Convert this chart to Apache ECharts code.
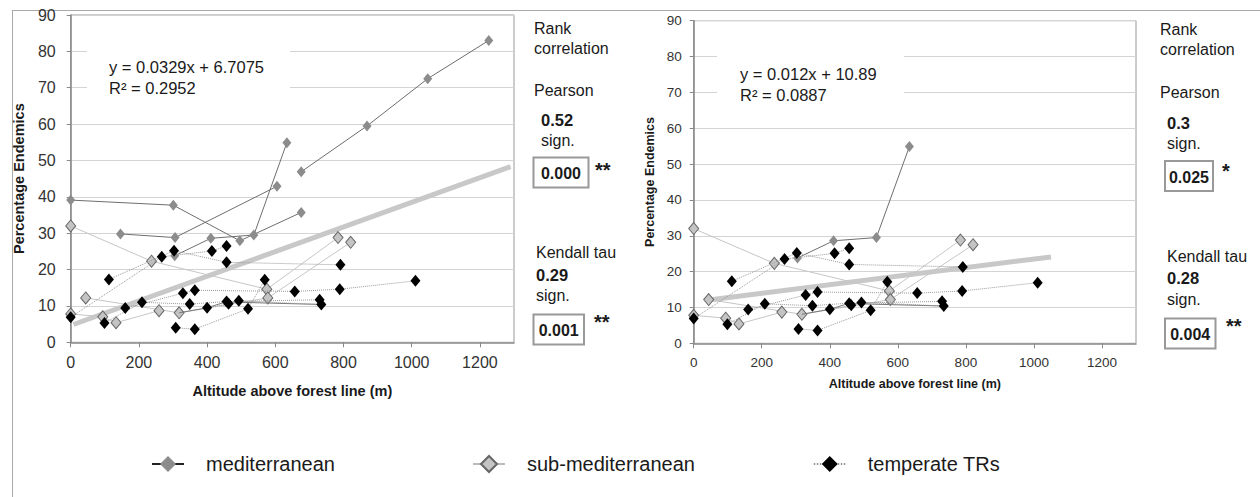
<!DOCTYPE html>
<html><head><meta charset="utf-8">
<script src="https://cdn.jsdelivr.net/npm/echarts@6/dist/echarts.min.js"></script>
<style>html,body{margin:0;padding:0;background:#fff}#c{width:1260px;height:497px}</style>
</head><body><div id="c"></div>
<script>
// ---- tick labels ----
const xTicks = [0, 200, 400, 600, 800, 1000, 1200];
const yTicks = [0, 10, 20, 30, 40, 50, 60, 70, 80, 90];

// ---- mediterranean transects [altitude, % endemics] ----
const medA = [[0, 39.1], [301, 37.7], [496, 27.9], [676, 35.7]];
const medB = [[146, 29.8], [306, 28.8], [605, 42.9]];
const medC = [[305, 23.8], [411, 28.6], [537, 29.5], [634, 54.9]];
const medD = [[676, 46.9], [869, 59.5], [1047, 72.5], [1226, 83.0]];
const medLow = [[318, 8.1], [400, 9.5], [455, 11.1], [735, 10.4]];

// ---- sub-mediterranean transects ----
const subA = [[0, 32.0], [237, 22.3], [575, 14.6], [784, 28.8]];
const subB = [[44, 12.2], [318, 8.1], [578, 12.2], [821, 27.5]];
const subC = [[0, 7.8], [94, 7.0], [133, 5.4], [259, 8.7]];

// ---- temperate TRs transects ----
const tmp1 = [[0, 6.9], [267, 23.5], [414, 25.1], [457, 26.5]];
const tmp2 = [[112, 17.3], [303, 25.2], [457, 22.0], [791, 21.3]];
const tmp3 = [[99, 5.3], [209, 11.0], [349, 10.5], [457, 11.2], [730, 11.7]];
const tmp4 = [[160, 9.4], [329, 13.5], [364, 14.3], [657, 14.0], [789, 14.6], [1011, 16.9]];
const tmp5 = [[308, 4.0], [364, 3.6], [520, 9.2], [569, 17.2]];
const tmp6 = [[400, 9.5], [463, 10.6], [493, 11.4], [735, 10.4]];

// ---- trend lines (as drawn) ----
const trendLeft = [[8, 4.9], [1290, 48.3]];
const trendRight = [[45, 12.1], [1050, 24.1]];

// ---- texts ----
const eqLeft = ['y = 0.0329x + 6.7075', 'R² = 0.2952'];
const eqRight = ['y = 0.012x + 10.89', 'R² = 0.0887'];
const pearsonLeft = ['0.52', '0.000', '**'];
const kendallLeft = ['0.29', '0.001', '**'];
const pearsonRight = ['0.3', '0.025', '*'];
const kendallRight = ['0.28', '0.004', '**'];
const legendNames = ['mediterranean', 'sub-mediterranean', 'temperate TRs'];

const FONT = '"Liberation Sans", Arial, Helvetica, sans-serif';
const chart = echarts.init(document.getElementById('c'), null, {renderer: 'svg', width: 1260, height: 497});

const kinds = {
  med: {name: legendNames[0], symbol: 'diamond', symbolSize: [9, 11], z: 3,
        itemStyle: {color: '#8c8c8c'}, lineStyle: {color: '#6e6e6e', width: 1, type: 'solid'}},
  sub: {name: legendNames[1], symbol: 'diamond', symbolSize: [10, 12], z: 2,
        itemStyle: {color: '#c4c4c4', borderColor: '#666', borderWidth: 1}, lineStyle: {color: '#c6c6c6', width: 1, type: 'solid'}},
  tmp: {name: legendNames[2], symbol: 'diamond', symbolSize: [10, 12], z: 4,
        itemStyle: {color: '#000'}, lineStyle: {color: '#999', width: 1, type: 'dotted'}},
  low: {name: 'low', symbol: 'none', z: 3, lineStyle: {color: '#777', width: 1, type: 'solid'}},
  trend: {name: 'trend', symbol: 'none', z: 1, lineStyle: {color: '#c8c8c8', width: 5, type: 'solid'}}
};

function mk(kind, data, g) {
  const k = kinds[kind];
  return {
    type: 'line', name: k.name, data: data, xAxisIndex: g, yAxisIndex: g,
    symbol: k.symbol, symbolSize: k.symbolSize || 0, showSymbol: k.symbol !== 'none',
    itemStyle: k.itemStyle, lineStyle: k.lineStyle, z: k.z, silent: true, animation: false
  };
}

const series = [];
[[trendLeft, 'trend'], [subA, 'sub'], [subB, 'sub'], [subC, 'sub'], [medA, 'med'], [medB, 'med'], [medC, 'med'], [medD, 'med'], [medLow, 'low'],
 [tmp1, 'tmp'], [tmp2, 'tmp'], [tmp3, 'tmp'], [tmp4, 'tmp'], [tmp5, 'tmp'], [tmp6, 'tmp']].forEach(p => series.push(mk(p[1], p[0], 0)));
[[trendRight, 'trend'], [subA, 'sub'], [subB, 'sub'], [subC, 'sub'], [medC, 'med'], [medLow, 'low'],
 [tmp1, 'tmp'], [tmp2, 'tmp'], [tmp3, 'tmp'], [tmp4, 'tmp'], [tmp5, 'tmp'], [tmp6, 'tmp']].forEach(p => series.push(mk(p[1], p[0], 1)));

function xAx(g, fs, gap) {
  return {
    gridIndex: g, type: 'value', min: 0, max: 1300, interval: 200,
    name: 'Altitude above forest line (m)', nameLocation: 'middle', nameGap: gap,
    nameTextStyle: {fontFamily: FONT, fontWeight: 'bold', fontSize: fs === 16 ? 14.5 : 12.5, color: '#1a1a1a'},
    axisLine: {show: true, onZero: false, lineStyle: {color: '#888', width: 1.5}},
    axisTick: {show: true, length: 5, lineStyle: {color: '#888'}, customValues: xTicks},
    axisLabel: {fontFamily: FONT, fontSize: fs, color: '#333', margin: 12, customValues: xTicks,
                formatter: v => String(v)},
    splitLine: {show: false}
  };
}
function yAx(g, fs, gap, margin) {
  return {
    gridIndex: g, type: 'value', min: 0, max: 90, interval: 10,
    name: 'Percentage Endemics', nameLocation: 'middle', nameGap: gap,
    nameTextStyle: {fontFamily: FONT, fontWeight: 'bold', fontSize: fs === 16 ? 14.5 : 12.5, color: '#1a1a1a'},
    axisLine: {show: true, lineStyle: {color: '#888', width: 1.5}},
    axisTick: {show: true, length: 4, lineStyle: {color: '#888'}, customValues: yTicks},
    axisLabel: {fontFamily: FONT, fontSize: fs, color: '#333', margin: margin, customValues: yTicks,
                formatter: v => String(v)},
    splitLine: {show: true, lineStyle: {color: '#d4d4d4', width: 1}}
  };
}

function txt(x, y, t, opts) {
  opts = opts || {};
  return {type: 'text', z: 10, silent: true, style: {
    x: x, y: y, text: t, fill: '#1a1a1a',
    font: (opts.bold ? 'bold ' : '') + (opts.size || 16) + 'px ' + FONT,
    align: opts.align || 'left', verticalAlign: 'middle'}};
}
function box(x, y, w, h) {
  return {type: 'rect', z: 9, silent: true, shape: {x: x, y: y, width: w, height: h},
          style: {fill: '#fff', stroke: '#999', lineWidth: 2}};
}
function statBlock(x0, xb, rankY, pear, kend, P, K) {
  return [
    txt(x0, rankY, 'Rank'), txt(x0, rankY + 20, 'correlation'),
    txt(x0, P[0], 'Pearson'),
    txt(xb, P[1], pear[0], {bold: true, size: 16.5}), txt(xb, P[2], 'sign.'),
    box(P[3], P[4], P[5], P[6]), txt(P[3] + P[5] / 2, P[4] + P[6] / 2 + 1, pear[1], {bold: true, align: 'center'}),
    txt(P[7], P[8], pear[2], {bold: true, size: 20}),
    txt(K[0], K[1], 'Kendall tau'),
    txt(K[0], K[2], kend[0], {bold: true, size: 16.5}), txt(K[0], K[3], 'sign.'),
    box(K[4], K[5], K[6], K[7]), txt(K[4] + K[6] / 2, K[5] + K[7] / 2 + 1, kend[1], {bold: true, align: 'center'}),
    txt(K[8], K[9], kend[2], {bold: true, size: 20})
  ];
}

const graphics = [
  {type: 'line', silent: true, z: 0, shape: {x1: 12, y1: 10.5, x2: 1260, y2: 10.5}, style: {stroke: '#aaa', lineWidth: 1}},
  {type: 'line', silent: true, z: 0, shape: {x1: 12.5, y1: 10, x2: 12.5, y2: 497}, style: {stroke: '#aaa', lineWidth: 1}},
  {type: 'rect', silent: true, z: 5, shape: {x: 87, y: 44, width: 203, height: 58}, style: {fill: '#fff'}},
  {type: 'rect', silent: true, z: 5, shape: {x: 717, y: 50, width: 187, height: 58}, style: {fill: '#fff'}},
  txt(109, 67, eqLeft[0], {size: 16.5}), txt(109, 88, eqLeft[1], {size: 16.5}),
  txt(740, 74, eqRight[0], {size: 16.5}), txt(740, 95, eqRight[1], {size: 16.5})
].concat(
  statBlock(534, 541, 28, pearsonLeft, kendallLeft,
    [90, 119.5, 140.5, 533.5, 157.5, 55, 30, 595, 170],
    [536, 252.5, 274.5, 295.5, 533.5, 314.5, 50.5, 30, 594, 322]),
  statBlock(1160, 1167, 29.5, pearsonRight, kendallRight,
    [92.5, 122.5, 143.5, 1165, 161, 48, 30, 1222, 171],
    [1167, 256.5, 277.5, 299, 1165, 318.5, 50.5, 30, 1226, 326])
);

const legendBase = {orient: 'horizontal', top: 449, itemWidth: 32, itemHeight: 20, selectedMode: false,
  textStyle: {fontFamily: FONT, fontSize: 20, color: '#1a1a1a', padding: [0, 0, 0, 17]}};

chart.setOption({
  animation: false,
  backgroundColor: '#fff',
  grid: [
    {left: 70.7, top: 15, width: 443.3, height: 327.3, show: true, borderColor: '#999', borderWidth: 1, backgroundColor: 'transparent'},
    {left: 693.7, top: 20.7, width: 442.3, height: 322.6, show: true, borderColor: '#999', borderWidth: 1, backgroundColor: 'transparent'}
  ],
  xAxis: [xAx(0, 16, 41), xAx(1, 13.5, 34)],
  yAxis: [yAx(0, 16, 44, 15), yAx(1, 13.5, 37, 12)],
  legend: [
    Object.assign({}, legendBase, {left: 146, data: [legendNames[0]], lineStyle: {color: '#222', width: 2}}),
    Object.assign({}, legendBase, {left: 467, data: [legendNames[1]], lineStyle: {color: '#bbb', width: 2}}),
    Object.assign({}, legendBase, {left: 808, data: [legendNames[2]], lineStyle: {color: '#777', width: 1.5}})
  ],
  graphic: graphics,
  series: series
});
</script></body></html>
